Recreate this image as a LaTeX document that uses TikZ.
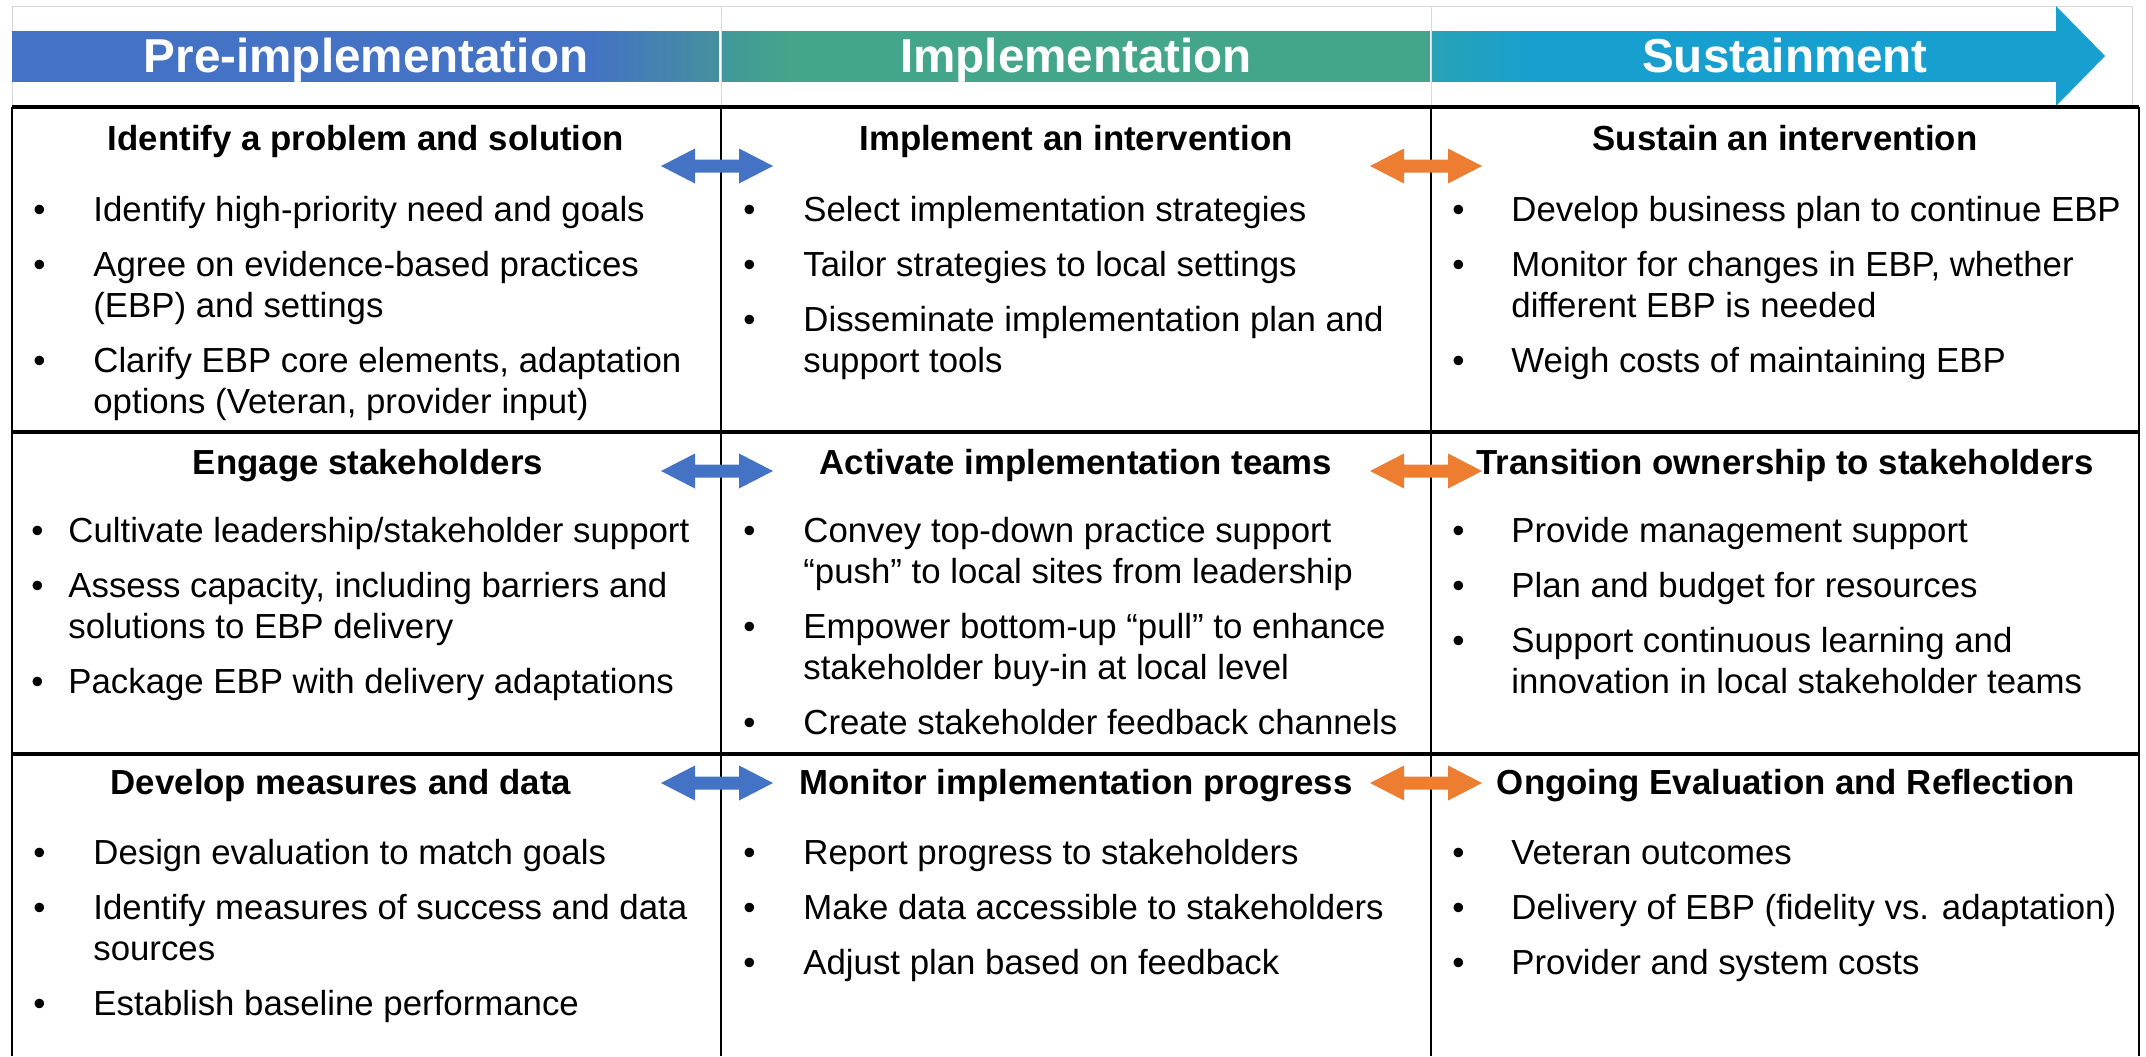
\documentclass[tikz,border=0pt]{standalone}
\usepackage{fontspec}
\setmainfont{Liberation Sans}
\usepackage{array}

\definecolor{preblue}{HTML}{4472C4}
\definecolor{preteal}{HTML}{4590A0}
\definecolor{impteal}{HTML}{43A58A}
\definecolor{impdark}{HTML}{42989A}
\definecolor{susteal}{HTML}{27A3B6}
\definecolor{sussky}{HTML}{179FD0}
\definecolor{arrblue}{HTML}{4472C4}
\definecolor{arrorange}{HTML}{ED7D31}
\definecolor{gridgray}{HTML}{D9D9D9}

\newcommand{\bodyfont}{\fontsize{17.4}{20.5}\selectfont}
\newcommand{\headfont}{\fontsize{17.4}{20.5}\selectfont\bfseries}
\newcommand{\bandfont}{\fontsize{23.8}{28}\selectfont\bfseries}
\newcommand{\blist}[2]{\begin{tabular}[t]{@{}p{#1}@{}l@{}}#2\end{tabular}}
\newcommand{\dblarrow}[3]{\fill[#1] ({#2-56},{#3}) -- ({#2-22},{#3+17.5}) -- ({#2-22},{#3+6.5}) -- ({#2+22},{#3+6.5}) -- ({#2+22},{#3+17.5}) -- ({#2+56},{#3}) -- ({#2+22},{#3-17.5}) -- ({#2+22},{#3-6.5}) -- ({#2-22},{#3-6.5}) -- ({#2-22},{#3-17.5}) -- cycle;}

\begin{document}
\begin{tikzpicture}[x=0.5pt,y=0.5pt]
		\tikzstyle{every node}+=[inner sep=0pt]
		\tikzstyle{band}=[text=white, font=\bandfont, anchor=base]
		\tikzstyle{head}=[font=\headfont, anchor=base]
		\tikzstyle{items}=[font=\bodyfont, anchor=base west]
		\useasboundingbox (0,0) rectangle (2146,-1056);
		\draw [gridgray] (12,-107) -- (12,-6) -- (2132,-6) -- (2132,-107);
		\draw [gridgray] (721,-6) -- (721,-107);
		\draw [gridgray] (1431,-6) -- (1431,-107);
		\fill [preblue] (12,-31) rectangle (591,-82);
		\foreach \i [evaluate=\i as \p using \i*100/31] in {0,...,31}
			\fill [preteal!\p!preblue] ({590+\i*4},-31) rectangle ({595+\i*4},-82);
		\foreach \i [evaluate=\i as \p using \i*100/34] in {0,...,34}
			\fill [impteal!\p!impdark] ({722+\i*2},-31) rectangle ({725+\i*2},-82);
		\fill [impteal] (790,-31) rectangle (1430,-82);
		\foreach \i [evaluate=\i as \p using \i*100/26] in {0,...,26}
			\fill [sussky!\p!susteal] ({1432+\i*4},-31) rectangle ({1437+\i*4},-82);
		\fill [sussky] (1536,-31) rectangle (2057,-82);
		\fill [sussky] (2056,-6) -- (2105,-56) -- (2056,-106) -- cycle;
		\node [band] (pre) at (366,-72) {Pre-implementation};
		\node [band] (imp) at (1076,-72) {Implementation};
		\node [band] (sus) at (1785,-72) {Sustainment};
		\draw [line width=1.6pt] (12,-107) -- (2139,-107);
		\draw [line width=1.6pt] (12,-432) -- (2139,-432);
		\draw [line width=1.6pt] (12,-754) -- (2139,-754);
		\draw [line width=1pt] (12,-107) -- (12,-1056);
		\draw [line width=0.8pt] (721,-107) -- (721,-1056);
		\draw [line width=0.8pt] (1431,-107) -- (1431,-1056);
		\draw [line width=1pt] (2139,-107) -- (2139,-1056);
		\node [head] (h11) at (366,-150) {Identify a problem and solution};
		\node [head] (h12) at (1076,-150) {Implement an intervention};
		\node [head] (h13) at (1785,-150) {Sustain an intervention};
		\node [head] (h21) at (368,-474) {Engage stakeholders};
		\node [head] (h22) at (1076,-474) {Activate implementation teams};
		\node [head] (h23) at (1785,-474) {Transition ownership to stakeholders};
		\node [head] (h31) at (341,-794) {Develop measures and data};
		\node [head] (h32) at (1076,-794) {Monitor implementation progress};
		\node [head] (h33) at (1786,-794) {Ongoing Evaluation and Reflection};
		\dblarrow{arrblue}{717}{-166}
		\dblarrow{arrorange}{1426}{-166}
		\dblarrow{arrblue}{717}{-471}
		\dblarrow{arrorange}{1426}{-471}
		\dblarrow{arrblue}{717}{-783}
		\dblarrow{arrorange}{1426}{-783}
		\node [items] (l11) at (33,-221) {\blist{30pt}{%
			\textbullet & Identify high-priority need and goals\\[7pt]
			\textbullet & Agree on evidence-based practices\\
			& (EBP) and settings\\[7pt]
			\textbullet & Clarify EBP core elements, adaptation\\
			& options (Veteran, provider input)}};
		\node [items] (l12) at (743,-221) {\blist{30pt}{%
			\textbullet & Select implementation strategies\\[7pt]
			\textbullet & Tailor strategies to local settings\\[7pt]
			\textbullet & Disseminate implementation plan and\\
			& support tools}};
		\node [items] (l13) at (1452,-221) {\blist{29.5pt}{%
			\textbullet & Develop business plan to continue EBP\\[7pt]
			\textbullet & Monitor for changes in EBP, whether\\
			& different EBP is needed\\[7pt]
			\textbullet & Weigh costs of maintaining EBP}};
		\node [items] (l21) at (31,-542) {\blist{18.5pt}{%
			\textbullet & Cultivate leadership/stakeholder support\\[7pt]
			\textbullet & Assess capacity, including barriers and\\
			& solutions to EBP delivery\\[7pt]
			\textbullet & Package EBP with delivery adaptations}};
		\node [items] (l22) at (743,-542) {\blist{30pt}{%
			\textbullet & Convey top-down practice support\\
			& “push” to local sites from leadership\\[7pt]
			\textbullet & Empower bottom-up “pull” to enhance\\
			& stakeholder buy-in at local level\\[7pt]
			\textbullet & Create stakeholder feedback channels}};
		\node [items] (l23) at (1452,-542) {\blist{29.5pt}{%
			\textbullet & Provide management support\\[7pt]
			\textbullet & Plan and budget for resources\\[7pt]
			\textbullet & Support continuous learning and\\
			& innovation in local stakeholder teams}};
		\node [items] (l31) at (33,-864) {\blist{30pt}{%
			\textbullet & Design evaluation to match goals\\[7pt]
			\textbullet & Identify measures of success and data\\
			& sources\\[7pt]
			\textbullet & Establish baseline performance}};
		\node [items] (l32) at (743,-864) {\blist{30pt}{%
			\textbullet & Report progress to stakeholders\\[7pt]
			\textbullet & Make data accessible to stakeholders\\[7pt]
			\textbullet & Adjust plan based on feedback}};
		\node [items] (l33) at (1452,-864) {\blist{29.5pt}{%
			\textbullet & Veteran outcomes\\[7pt]
			\textbullet & Delivery of EBP (fidelity vs. adaptation)\\[7pt]
			\textbullet & Provider and system costs}};
\end{tikzpicture}
\end{document}
